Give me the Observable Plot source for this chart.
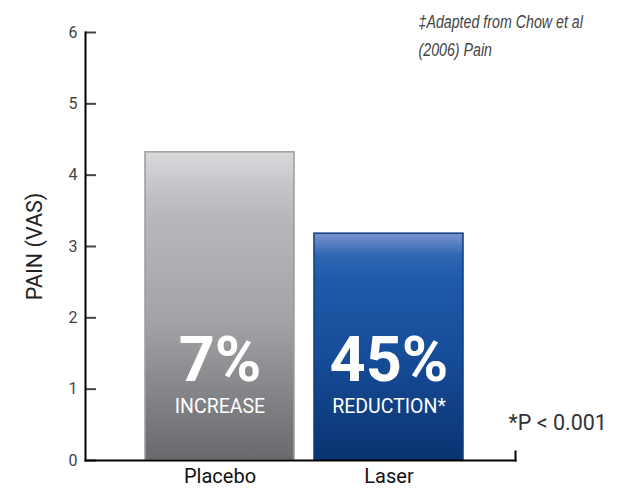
<!DOCTYPE html>
<html><head><meta charset="utf-8">
<script src="https://cdn.jsdelivr.net/npm/d3@7"></script>
<script src="https://cdn.jsdelivr.net/npm/@observablehq/plot@0.6"></script>
<style>
body { margin: 0; background: #fff; }
#chart svg { display: block; }
</style>
</head><body><div id="chart"></div>
<script>
// ---- data ----
const categories = ["Placebo", "Laser"];
const painValues = [4.32, 3.18];
const changePercents = ["7%", "45%"];
const changeLabels = ["INCREASE", "REDUCTION*"];
const yTicks = [0, 1, 2, 3, 4, 5, 6];
const yLabel = "PAIN (VAS)";
const sourceNote = "‡Adapted from Chow et al\n(2006) Pain";
const pNote = "*P < 0.001";

const data = categories.map((c, i) => ({
  category: c, value: painValues[i], pct: changePercents[i], label: changeLabels[i]
}));

const FONT = "Roboto, 'DejaVu Sans', sans-serif";

const chart = Plot.plot({
  width: 621,
  height: 488,
  marginTop: 32,
  marginBottom: 28,
  marginLeft: 85,
  marginRight: 106,
  style: { fontFamily: FONT, background: "#fff", overflow: "visible" },
  x: { domain: categories, paddingInner: 0.12, paddingOuter: 0.33, align: 0.53, label: null },
  y: { domain: [0, 6], label: null },
  marks: [
    Plot.barY(data, {
      filter: d => d.category === "Placebo",
      x: "category", y: "value",
      fill: "url(#grad-placebo)", stroke: "#9c9c9e", strokeWidth: 1.5
    }),
    Plot.barY(data, {
      filter: d => d.category === "Laser",
      x: "category", y: "value",
      fill: "url(#grad-laser)", stroke: "#0d3c82", strokeWidth: 1.5
    }),
    Plot.text(data, {
      x: "category", text: "pct", frameAnchor: "bottom", dy: -80,
      fill: "white", fontSize: 63, fontWeight: "bold"
    }),
    Plot.text(data, {
      x: "category", text: "label", frameAnchor: "bottom", dy: -48,
      fill: "white", fontSize: 19.5
    }),
    Plot.axisY({
      ticks: yTicks, tickFormat: d3.format("d"),
      tickSize: -11, tickPadding: 19, strokeWidth: 2,
      fontSize: 16, color: "#444", label: null
    }),
    Plot.axisX({
      tickSize: 0, tickPadding: 8, fontSize: 20, color: "#111", label: null
    }),
    Plot.frame({ anchor: "left", stroke: "#000", strokeWidth: 2 }),
    Plot.frame({ anchor: "bottom", stroke: "#000", strokeWidth: 2 }),
    Plot.frame({ anchor: "right", stroke: "#000", strokeWidth: 2, insetTop: 419 }),
    Plot.text([yLabel], {
      frameAnchor: "left", textAnchor: "middle", rotate: -90, dx: -50,
      fontSize: 21.5, fill: "#222"
    }),
    Plot.text([sourceNote], {
      frameAnchor: "top-right", textAnchor: "start", lineAnchor: "top",
      dx: -97, dy: -24, lineHeight: 1.55,
      fontSize: 18, fontStyle: "italic", fill: "#444",
      fontFamily: "'Liberation Sans', Arial, sans-serif"
    }),
    Plot.text([pNote], {
      frameAnchor: "bottom-right", textAnchor: "start",
      dx: -7, dy: -31, fontSize: 21.5, fill: "#333"
    })
  ]
});

// gradients for the bars
const defs = d3.select(chart).insert("defs", ":first-child");
function grad(id, stops) {
  const g = defs.append("linearGradient").attr("id", id)
    .attr("x1", 0).attr("y1", 0).attr("x2", 0).attr("y2", 1);
  stops.forEach(([o, c]) => g.append("stop").attr("offset", o).attr("stop-color", c));
}
grad("grad-placebo", [[0, "#d8d9db"], [0.12, "#c3c4c7"], [0.2, "#b8b9bc"], [0.55, "#a2a3a6"], [1, "#68696d"]]);
grad("grad-laser", [[0, "#7b95d0"], [0.1, "#2f66b4"], [0.2, "#1f5aa9"], [0.55, "#164c98"], [1, "#0b3370"]]);

// condense the italic source note horizontally (reference uses a condensed face)
d3.select(chart).selectAll("text").filter(function () {
  return this.textContent.includes("Adapted");
}).each(function () {
  const t = this.getAttribute("transform") || "";
  this.setAttribute("transform", t + " scale(0.79,1)");
});

document.getElementById("chart").append(chart);
</script>
</body></html>
